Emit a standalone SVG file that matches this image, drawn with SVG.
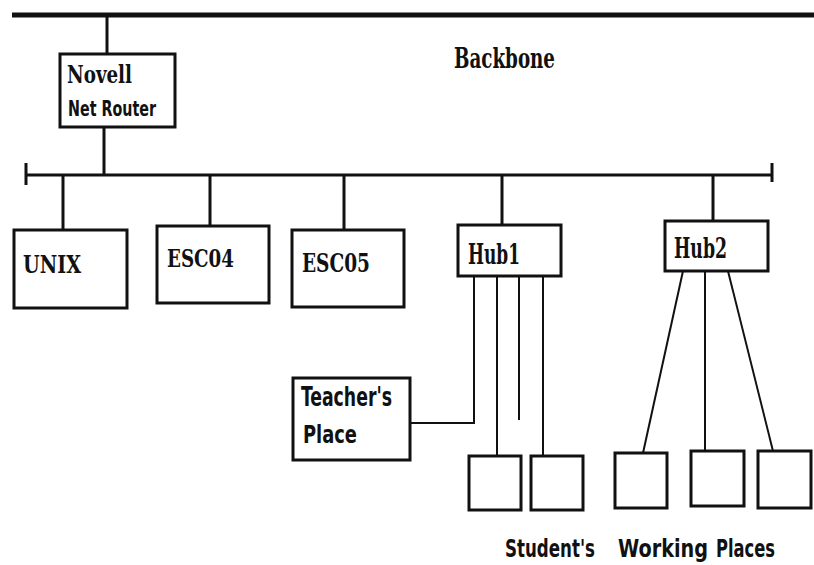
<svg xmlns="http://www.w3.org/2000/svg" width="814" height="565" viewBox="0 0 814 565">
<style>
.box{fill:#fff;stroke:#111;stroke-width:3}
.thin{fill:none;stroke:#111;stroke-width:2}
.med{fill:none;stroke:#111;stroke-width:3}
.serif{font-family:"DejaVu Serif Condensed","DejaVu Serif","Liberation Serif",serif;font-weight:bold;fill:#111}
.sans{font-family:"DejaVu Sans Condensed","Liberation Sans",sans-serif;font-weight:bold;fill:#111}
</style>
<rect width="814" height="565" fill="#fff"/>
<g id="connectors">
<line x1="12" y1="15" x2="814" y2="15" stroke="#111" stroke-width="5"/>
<line class="med" x1="107" y1="15" x2="107" y2="54"/>
<line class="med" x1="104" y1="126" x2="104" y2="175"/>
<line class="med" x1="26" y1="175" x2="773" y2="175"/>
<line class="med" x1="26" y1="163" x2="26" y2="185"/>
<line class="med" x1="772" y1="163" x2="772" y2="182"/>
<line class="med" x1="63" y1="175" x2="63" y2="230"/>
<line class="med" x1="210" y1="175" x2="210" y2="226"/>
<line class="med" x1="344" y1="175" x2="344" y2="230"/>
<line class="med" x1="502" y1="175" x2="502" y2="225"/>
<line class="med" x1="713" y1="175" x2="713" y2="221"/>
<polyline class="thin" points="474,276 474,423 410,423"/>
<line class="thin" x1="497" y1="276" x2="497" y2="456"/>
<line class="thin" x1="519" y1="276" x2="519" y2="420"/>
<line class="thin" x1="543" y1="276" x2="543" y2="456"/>
<line class="thin" x1="683" y1="271" x2="643" y2="453"/>
<line class="thin" x1="705" y1="271" x2="705" y2="451"/>
<line class="thin" x1="728" y1="271" x2="773" y2="451"/>
</g>
<g id="backbone-label"><text class="serif" x="454" y="68" font-size="28" textLength="101" lengthAdjust="spacingAndGlyphs">Backbone</text></g>
<g id="novell">
<rect class="box" x="60" y="54" width="115" height="73"/>
<text class="serif" x="67" y="83" font-size="25" textLength="65" lengthAdjust="spacingAndGlyphs">Novell</text>
<text class="sans" x="68" y="116" font-size="22" textLength="88" lengthAdjust="spacingAndGlyphs">Net Router</text>
</g>
<g id="unix">
<rect class="box" x="14" y="230" width="113" height="78"/>
<text class="serif" x="23" y="273" font-size="25" textLength="58" lengthAdjust="spacingAndGlyphs">UNIX</text>
</g>
<g id="esc04">
<rect class="box" x="157" y="226" width="112" height="77"/>
<text class="serif" x="167" y="267" font-size="24" textLength="67" lengthAdjust="spacingAndGlyphs">ESC04</text>
</g>
<g id="esc05">
<rect class="box" x="292" y="230" width="112" height="77"/>
<text class="serif" x="302" y="272" font-size="26" textLength="68" lengthAdjust="spacingAndGlyphs">ESC05</text>
</g>
<g id="hub1">
<rect class="box" x="458" y="225" width="103" height="51"/>
<text class="serif" x="468" y="264" font-size="27" textLength="52" lengthAdjust="spacingAndGlyphs">Hub1</text>
</g>
<g id="hub2">
<rect class="box" x="665" y="221" width="103" height="50"/>
<text class="serif" x="674" y="258" font-size="27" textLength="53" lengthAdjust="spacingAndGlyphs">Hub2</text>
</g>
<g id="teacher">
<rect class="box" x="293" y="378" width="117" height="82"/>
<text class="sans" x="301" y="406" font-size="26" textLength="91" lengthAdjust="spacingAndGlyphs">Teacher's</text>
<text class="sans" x="303" y="443" font-size="25" textLength="54" lengthAdjust="spacingAndGlyphs">Place</text>
</g>
<g id="student1"><rect class="box" x="469" y="456" width="52" height="54"/></g>
<g id="student2"><rect class="box" x="531" y="456" width="52" height="54"/></g>
<g id="work3"><rect class="box" x="615" y="453" width="52" height="55"/></g>
<g id="work4"><rect class="box" x="691" y="451" width="53" height="55"/></g>
<g id="work5"><rect class="box" x="758" y="451" width="53" height="57"/></g>
<g id="caption">
<text class="sans" x="505" y="557" font-size="24" textLength="90" lengthAdjust="spacingAndGlyphs">Student's</text>
<text class="sans" x="618" y="557" font-size="24" textLength="90" lengthAdjust="spacingAndGlyphs">Working</text>
<text class="sans" x="716" y="557" font-size="24" textLength="59" lengthAdjust="spacingAndGlyphs">Places</text>
</g>
</svg>
